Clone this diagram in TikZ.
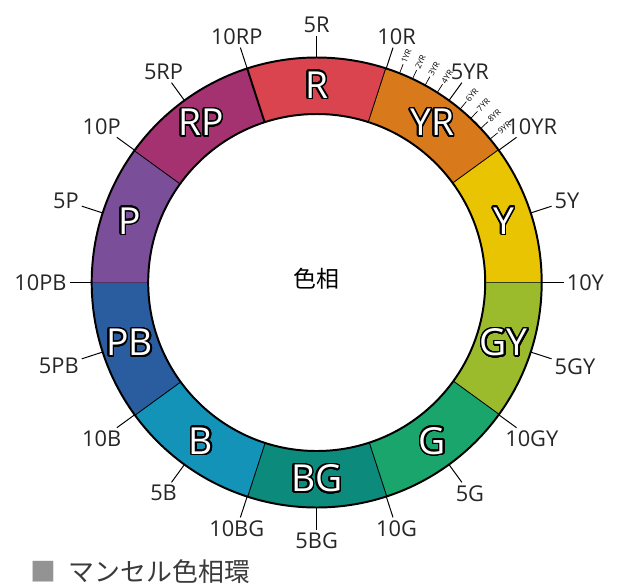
\documentclass[tikz,border=0pt]{standalone}
\usepackage{fontspec}
\setmainfont{Open Sans}
\newfontfamily\jpfont{Noto Sans CJK JP}
\usepackage{contour}
\contourlength{1.1pt}
\contournumber{32}
\usepackage{tikz}

\definecolor{colR}{HTML}{D9444E}
\definecolor{colYR}{HTML}{D87A1C}
\definecolor{colY}{HTML}{E9C402}
\definecolor{colGY}{HTML}{9BBA2C}
\definecolor{colG}{HTML}{1AA56C}
\definecolor{colBG}{HTML}{0C8B7C}
\definecolor{colB}{HTML}{1493B8}
\definecolor{colPB}{HTML}{2A5D9F}
\definecolor{colP}{HTML}{7B4E9A}
\definecolor{colRP}{HTML}{A53270}
\definecolor{captiongray}{HTML}{3A3A3A}

\tikzset{
    huelabel/.style={font=\fontsize{15.5}{18}\selectfont, text=black!85, inner sep=2pt},
    smalllabel/.style={font=\fontsize{5.8}{6}\selectfont, inner sep=1pt},
    seglabel/.style={font=\fontsize{26.5}{30}\selectfont},
    tickline/.style={line width=0.7pt},
}

\begin{document}
\begin{tikzpicture}
            \useasboundingbox (-7.9175, -7.5875) rectangle (7.5825, 7.0625);

            % ring segments
            \foreach \s/\n/\c in {72/R/colR, 36/YR/colYR, 0/Y/colY, -36/GY/colGY, -72/G/colG,
                                  -108/BG/colBG, -144/B/colB, -180/PB/colPB, 144/P/colP, 108/RP/colRP} {
                \fill[\c] (\s:5.625) arc[start angle=\s, end angle=\s+36, radius=5.625]
                    -- (\s+36:4.2125) arc[start angle=\s+36, end angle=\s, radius=4.2125] -- cycle;
                \draw[line width=1.4pt] (\s:4.2125) -- (\s:5.625);
                \node[seglabel] (seg\n) at (\s+18:4.92) {\contour{black}{\textcolor{white}{\n}}};

                % ticks: 10 at the border, 5 in the middle
                \coordinate (o10\n) at (\s:5.625);
                \coordinate (e10\n) at (\s:6.175);
                \coordinate (o5\n) at (\s+18:5.625);
                \coordinate (e5\n) at (\s+18:6.175);
                \draw[tickline] (o10\n) -- (e10\n);
                \draw[tickline] (o5\n) -- (e5\n);
                \pgfmathtruncatemacro\b{mod(\s+540, 360)}
                \pgfmathtruncatemacro\m{mod(\s+558, 360)}
                \node[huelabel, anchor=\b] (l10\n) at (e10\n) {10\n};
                \node[huelabel, anchor=\m] (l5\n) at (e5\n) {5\n};
            }

            \draw[line width=1.4pt] (0, 0) circle (5.625);
            \draw[line width=1.4pt] (0, 0) circle (4.2125);

            % finer steps inside YR
            \foreach \k in {1, 2, 3, 4, 6, 7, 8, 9} {
                \pgfmathsetmacro\a{72 - 3.6*\k}
                \coordinate (os\k) at (\a:5.625);
                \coordinate (es\k) at (\a:5.87);
                \draw[line width=0.5pt] (os\k) -- (es\k);
                \node[smalllabel, rotate=\a, anchor=west] (ls\k) at (es\k) {\k YR};
            }

            \node[font=\jpfont\fontsize{16.3}{18}\selectfont] (hue) at (0, 0.1) {色相};

            \node[font=\jpfont\fontsize{18.4}{20}\selectfont, text=gray!85] (mark) at (-6.84, -7.24) {■};
            \node[font=\jpfont\fontsize{18.4}{20}\selectfont, text=captiongray, anchor=west, inner sep=0pt]
                (caption) at (-6.2, -7.24) {マンセル色相環};
        \end{tikzpicture}
\end{document}
